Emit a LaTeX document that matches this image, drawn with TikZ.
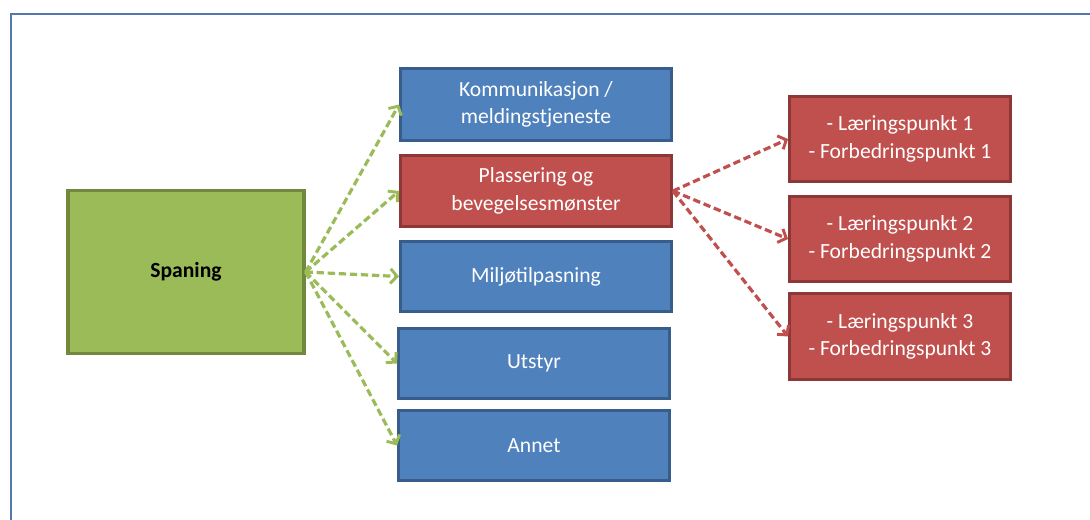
\documentclass[tikz,border=0pt]{standalone}
\usepackage{fontspec}
\setmainfont{Carlito}
\usetikzlibrary{arrows.meta}
\definecolor{bfill}{HTML}{4F81BD}
\definecolor{bline}{HTML}{385D8A}
\definecolor{rfill}{HTML}{C0504D}
\definecolor{rline}{HTML}{8C3836}
\definecolor{gfill}{HTML}{9BBB59}
\definecolor{gline}{HTML}{71893F}
\definecolor{frame}{HTML}{5477AE}
\tikzset{
  box/.style={rectangle, line width=2.4pt, align=center, inner sep=0pt,
    font=\fontsize{16.2}{20.5}\selectfont, text=white},
  bluebox/.style={box, fill=bfill, draw=bline},
  redbox/.style={box, fill=rfill, draw=rline},
  greenbox/.style={box, fill=gfill, draw=gline, text=black, font=\fontsize{16.2}{20.5}\selectfont\bfseries},
  link/.style={line width=2.4pt, dash pattern=on 5.5pt off 2.8pt,
    -{Straight Barb[length=5pt,width=11pt,line width=2.2pt]}},
  glink/.style={link, draw=gfill},
  rlink/.style={link, draw=rfill},
}
\begin{document}
\begin{tikzpicture}[x=0.75pt,y=-0.75pt]
\useasboundingbox (0,0) rectangle (1090,519);
\draw[frame, line width=1.6pt] (11,520) -- (11,14) -- (1091,14);

\node[greenbox, minimum width=177pt, minimum height=122pt] (sp) at (186,272) {Spaning};

\node[bluebox, minimum width=203pt, minimum height=54pt] (k) at (536,104.5) {Kommunikasjon /\\meldingstjeneste};
\node[redbox, minimum width=203pt, minimum height=53pt] (p) at (536,191) {Plassering og\\bevegelsesmønster};
\node[bluebox, minimum width=203pt, minimum height=52.5pt] (m) at (536,276.5) {Miljøtilpasning};
\node[bluebox, minimum width=203pt, minimum height=52.5pt] (u) at (534,363.5) {Utstyr};
\node[bluebox, minimum width=203pt, minimum height=52.5pt] (a) at (534,445.5) {Annet};

\node[redbox, minimum width=165.5pt, minimum height=64pt] (r1) at (900,139) {- Læringspunkt 1\\- Forbedringspunkt 1};
\node[redbox, minimum width=165.5pt, minimum height=64pt] (r2) at (900,239) {- Læringspunkt 2\\- Forbedringspunkt 2};
\node[redbox, minimum width=165.5pt, minimum height=64.5pt] (r3) at (900,336.5) {- Læringspunkt 3\\- Forbedringspunkt 3};

\foreach \t in {k,p,m,u,a} \draw[glink] (sp.east) -- (\t.west);
\foreach \t in {r1,r2,r3} \draw[rlink] (p.east) -- (\t.west);
\end{tikzpicture}
\end{document}
